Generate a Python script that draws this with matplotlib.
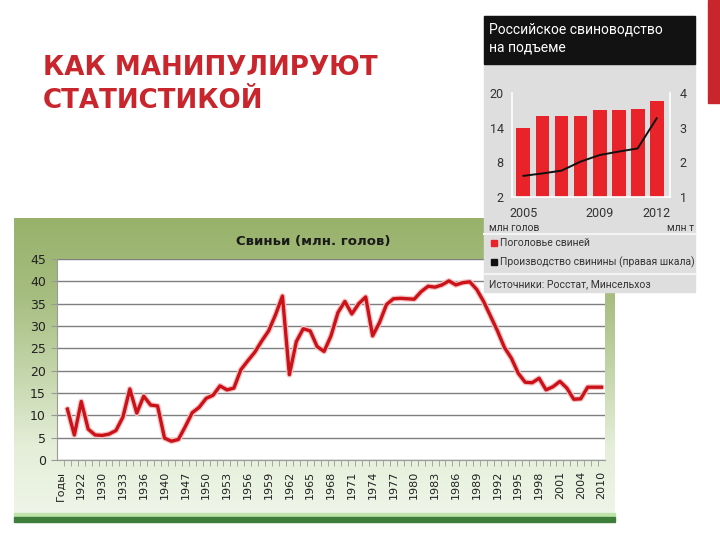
import numpy as np
import matplotlib
matplotlib.use("Agg")
import matplotlib.pyplot as plt
from matplotlib.patches import Rectangle
from matplotlib.colors import LinearSegmentedColormap

W, H = 720, 540

# main chart: pigs, million head (one value per category after "Годы")
tick_labels = ["Годы", "1922", "1930", "1933", "1936", "1940", "1947", "1950", "1953",
               "1956", "1959", "1962", "1965", "1968", "1971", "1974", "1977", "1980",
               "1983", "1986", "1989", "1992", "1995", "1998", "2001", "2004", "2010"]
pigs = [11.4, 5.6, 13.1, 6.9, 5.6, 5.5, 5.8, 6.6, 9.6, 15.9,
        10.5, 14.3, 12.3, 12.1, 4.9, 4.2, 4.6, 7.5, 10.6, 11.8,
        13.8, 14.5, 16.6, 15.7, 16.1, 20.2, 22.2, 24.1, 26.6, 28.9,
        32.5, 36.7, 19.1, 26.5, 29.4, 28.9, 25.4, 24.3, 27.8, 33.0,
        35.5, 32.7, 35.0, 36.5, 27.8, 30.8, 34.8, 36.1, 36.2, 36.1,
        36.0, 37.7, 38.9, 38.7, 39.2, 40.1, 39.2, 39.7, 39.9, 38.2,
        35.5, 32.2, 28.9, 25.2, 22.8, 19.4, 17.4, 17.3, 18.3, 15.7,
        16.4, 17.6, 16.1, 13.6, 13.7, 16.3, 16.3, 16.3]

# inset chart
inset_years = ["2005", "2006", "2007", "2008", "2009", "2010", "2011", "2012"]
inset_herd = [13.9, 16.0, 16.1, 16.0, 17.1, 17.1, 17.2, 18.7]   # млн голов
inset_meat = [1.61, 1.68, 1.76, 2.02, 2.21, 2.31, 2.40, 3.27]   # млн т

RED = "#c9252c"
LINE_RED = "#cc1219"
narrow = ["Roboto", "DejaVu Sans"]


def box(x0, y0, x1, y1):
    # pixel box (top-left origin) -> figure fraction
    return [x0 / W, 1 - y1 / H, (x1 - x0) / W, (y1 - y0) / H]


fig = plt.figure(figsize=(7.2, 5.4), dpi=100)
fig.patch.set_facecolor("white")

# slide canvas in pixel coordinates
canvas = fig.add_axes([0, 0, 1, 1], zorder=0)
canvas.set_xlim(0, W)
canvas.set_ylim(H, 0)
canvas.axis("off")

canvas.text(43, 75, "КАК МАНИПУЛИРУЮТ", fontsize=18.8, weight="bold",
            color=RED, va="baseline", ha="left")
canvas.text(43, 108, "СТАТИСТИКОЙ", fontsize=18.8, weight="bold",
            color=RED, va="baseline", ha="left")
canvas.add_patch(Rectangle((708, 0), 12, 103, color=RED))

# green chart panel
panel_cmap = LinearSegmentedColormap.from_list(
    "panel", ["#98b26b", "#a6bd80", "#c3d5a9", "#e4eed8", "#f0f6ea"])
grad = np.linspace(0, 1, 200)[:, None] * np.ones((1, 10))
canvas.imshow(grad, cmap=panel_cmap, extent=(14, 615, 522, 218),
              aspect="auto", origin="upper")
canvas.add_patch(Rectangle((14, 513), 601, 4, color="#bfe3a8"))
canvas.add_patch(Rectangle((14, 517), 601, 5, color="#3e7d3a"))
canvas.text(313, 242, "Свиньи (млн. голов)", fontsize=9.5, weight="bold",
            color="#1a1a1a", ha="center", va="center")
canvas.set_xlim(0, W)
canvas.set_ylim(H, 0)

# main line chart
ax = fig.add_axes(box(57, 259, 605, 460), zorder=1)
ax.set_facecolor("white")
x = np.arange(1, len(pigs) + 1)
ax.plot(x, pigs, color="#f4c2c2", lw=4.2, solid_capstyle="round", zorder=2)
ax.plot(x, pigs, color=LINE_RED, lw=2.4, solid_joinstyle="round", zorder=3)
ax.set_xlim(-0.5, len(pigs) + 0.5)
ax.set_ylim(0, 45)
ax.set_yticks(range(0, 46, 5))
ax.yaxis.grid(True, color="#7f7f7f", lw=1.0)
ax.set_axisbelow(True)
ax.set_xticks(range(0, len(pigs) + 1, 3))
ax.set_xticklabels(tick_labels, rotation=90, fontsize=8, color="#222222")
ax.set_xticks(np.arange(0.5, len(pigs) + 0.5, 1), minor=True)
ax.tick_params(axis="x", which="major", length=0, pad=8)
ax.tick_params(axis="x", which="minor", length=4, color="#999999", direction="out")
ax.tick_params(axis="y", length=4, color="#999999", labelsize=9, labelcolor="#222222", pad=4)
for side in ("top", "right"):
    ax.spines[side].set_visible(False)
for side in ("left", "bottom"):
    ax.spines[side].set_color("#9a9a9a")

# inset panel
over = fig.add_axes([0, 0, 1, 1], zorder=2)
over.set_xlim(0, W)
over.set_ylim(H, 0)
over.axis("off")
over.patch.set_alpha(0)
over.add_patch(Rectangle((484, 16), 211, 276, color="#dedede"))
over.add_patch(Rectangle((484, 16), 211, 48, color="#121212"))
over.text(489, 30, "Российское свиноводство", fontsize=10, color="white",
          family=narrow, va="center")
over.text(489, 48, "на подъеме", fontsize=10, color="white",
          family=narrow, va="center")
over.text(489, 228, "млн голов", fontsize=7.5, color="#333333", family=narrow, va="center")
over.text(694, 228, "млн т", fontsize=7.5, color="#333333", family=narrow,
          va="center", ha="right")
over.plot([484, 695], [234, 234], color="#f4f4f4", lw=1.5)
over.add_patch(Rectangle((491, 240), 6, 6, color="#e8232a"))
over.text(500, 243, "Поголовье свиней", fontsize=7.5, color="#333333",
          family=narrow, va="center")
over.add_patch(Rectangle((491, 259), 6, 6, color="#111111"))
over.text(500, 262, "Производство свинины (правая шкала)", fontsize=7.5,
          color="#333333", family=narrow, va="center")
over.plot([484, 695], [274, 274], color="#f4f4f4", lw=1.5)
over.text(489, 284, "Источники: Росстат, Минсельхоз", fontsize=7.5,
          color="#333333", family=narrow, va="center")

# inset bars
bx = fig.add_axes(box(512, 93, 670, 197), zorder=3)
bx.set_facecolor("none")
pos = np.arange(len(inset_years))
bx.bar(pos, np.array(inset_herd) - 2, bottom=2, width=0.73, color="#e8232a")
bx.set_xlim(-0.6, 7.7)
bx.set_ylim(2, 20)
bx.set_yticks([2, 8, 14, 20])
bx.set_xticks([0, 4, 7])
bx.set_xticklabels([inset_years[0], inset_years[4], inset_years[7]])
bx.tick_params(axis="both", length=0, labelsize=9, labelcolor="#333333")
bx.tick_params(axis="x", pad=7)
bx.tick_params(axis="y", pad=6)
for lab in bx.get_xticklabels() + bx.get_yticklabels():
    lab.set_family(narrow)
bx.spines["top"].set_visible(False)
for side in ("left", "right", "bottom"):
    bx.spines[side].set_color("white")
    bx.spines[side].set_linewidth(1.2)

tx = bx.twinx()
tx.plot(pos, inset_meat, color="#111111", lw=1.4)
tx.set_ylim(1, 4)
tx.set_yticks([1, 2, 3, 4])
tx.tick_params(axis="y", length=0, labelsize=9, labelcolor="#333333", pad=7)
for lab in tx.get_yticklabels():
    lab.set_family(narrow)
for side in ("top", "left", "bottom", "right"):
    tx.spines[side].set_visible(False)

fig.savefig("out.png", dpi=100)
